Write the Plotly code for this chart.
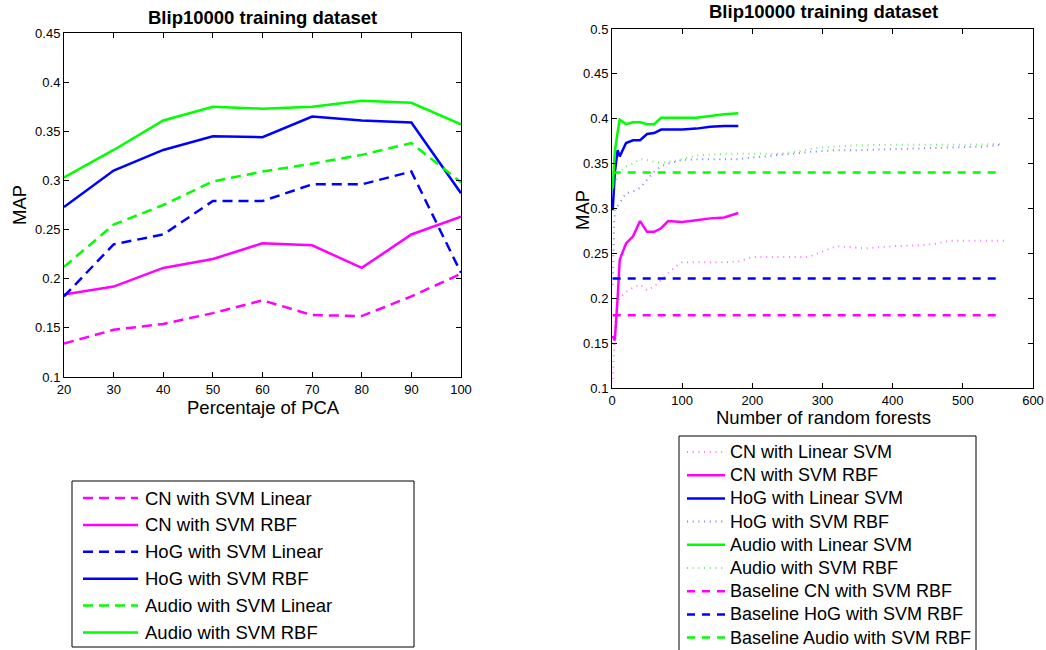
import plotly.graph_objects as go

W, H = 1046, 650
OFF = 0
FW, FH = W - OFF, H - OFF

# ---------------- Left chart data (Percentaje of PCA) ----------------
pca_pct = [20, 30, 40, 50, 60, 70, 80, 90, 100]
cn_svm_linear = [0.134, 0.148, 0.154, 0.165, 0.178, 0.163, 0.162, 0.182, 0.205]
cn_svm_rbf = [0.184, 0.192, 0.211, 0.220, 0.236, 0.234, 0.211, 0.245, 0.263]
hog_svm_linear = [0.182, 0.235, 0.245, 0.279, 0.279, 0.296, 0.296, 0.309, 0.206]
hog_svm_rbf = [0.273, 0.310, 0.331, 0.345, 0.344, 0.365, 0.361, 0.359, 0.287]
audio_svm_linear = [0.212, 0.255, 0.275, 0.299, 0.309, 0.317, 0.326, 0.338, 0.298]
audio_svm_rbf = [0.303, 0.331, 0.361, 0.375, 0.373, 0.375, 0.381, 0.379, 0.357]

left_xticks = [20, 30, 40, 50, 60, 70, 80, 90, 100]
left_yticks = [0.1, 0.15, 0.2, 0.25, 0.3, 0.35, 0.4, 0.45]
left_ytext = ["0.1", "0.15", "0.2", "0.25", "0.3", "0.35", "0.4", "0.45"]

# ---------------- Right chart data (Number of random forests) ----------------
rf_solid_x = [1, 4, 8, 11, 20, 30, 40, 50, 60, 70, 80, 100, 120, 140, 160, 180]
cn_linear_rf = [0.158, 0.153, 0.200, 0.243, 0.261, 0.269, 0.286, 0.274, 0.274, 0.278, 0.286, 0.285, 0.287, 0.289, 0.290, 0.295]
hog_linear_rf = [0.298, 0.340, 0.365, 0.358, 0.373, 0.376, 0.376, 0.383, 0.384, 0.388, 0.388, 0.388, 0.389, 0.391, 0.392, 0.392]
audio_linear_rf = [0.322, 0.363, 0.385, 0.399, 0.394, 0.396, 0.396, 0.394, 0.394, 0.401, 0.401, 0.401, 0.401, 0.403, 0.405, 0.406]

cn_dot_x = [1, 3, 5, 8, 10, 20, 30, 40, 50, 60, 70, 80, 90, 100, 120, 140, 160, 180, 200, 220,
            240, 280, 300, 320, 340, 360, 400, 440, 460, 480, 500, 520, 540, 560]
cn_rbf_rf = [0.110, 0.150, 0.180, 0.195, 0.200, 0.207, 0.212, 0.215, 0.209, 0.213, 0.220, 0.228, 0.235, 0.240,
             0.240, 0.240, 0.240, 0.241, 0.246, 0.246, 0.246, 0.246, 0.252, 0.258, 0.257, 0.2555, 0.258,
             0.259, 0.2605, 0.264, 0.264, 0.264, 0.264, 0.264]

hog_dot_x = [1, 2, 3, 5, 10, 20, 30, 40, 50, 60, 70, 80, 90, 100, 120, 140, 160, 180, 200, 220,
             240, 260, 280, 300, 320, 350, 400, 450, 500, 530, 555]
hog_rbf_rf = [0.215, 0.260, 0.285, 0.300, 0.305, 0.317, 0.319, 0.323, 0.332, 0.341, 0.347, 0.350, 0.352, 0.354,
              0.355, 0.355, 0.355, 0.355, 0.357, 0.358, 0.360, 0.361, 0.363, 0.364, 0.365, 0.365, 0.366,
              0.367, 0.368, 0.369, 0.371]

audio_dot_x = [1, 3, 5, 10, 20, 30, 40, 50, 60, 70, 80, 90, 100, 120, 140, 160, 180, 200, 220, 240,
               260, 280, 300, 320, 350, 400, 450, 500, 555]
audio_rbf_rf = [0.320, 0.325, 0.330, 0.340, 0.347, 0.350, 0.355, 0.354, 0.352, 0.351, 0.352, 0.353, 0.355,
                0.359, 0.360, 0.361, 0.361, 0.361, 0.361, 0.361, 0.363, 0.366, 0.368, 0.369, 0.3705, 0.371,
                0.371, 0.371, 0.372]

baseline_x = [1, 555]
baseline_cn = [0.181, 0.181]
baseline_hog = [0.222, 0.222]
baseline_audio = [0.340, 0.340]

right_xticks = [0, 100, 200, 300, 400, 500, 600]
right_yticks = [0.1, 0.15, 0.2, 0.25, 0.3, 0.35, 0.4, 0.45, 0.5]
right_ytext = ["0.1", "0.15", "0.2", "0.25", "0.3", "0.35", "0.4", "0.45", "0.5"]

MAG, BLU, GRN = "#FF00FF", "#0000FF", "#00FF00"
MAG_L, BLU_L, GRN_L = "rgba(255,0,255,0.55)", "rgba(0,0,255,0.5)", "rgba(0,220,0,0.55)"
FONT = "Arial, 'Liberation Sans', sans-serif"
TXT = 18.5


def px(x):
    return (x - OFF) / FW


def py(y):
    return 1 - (y - OFF) / FH


fig = go.Figure()

LDASH = "10px,6px"
left_series = [
    ("CN with SVM Linear", cn_svm_linear, MAG, LDASH, 2.5),
    ("CN with SVM RBF", cn_svm_rbf, MAG, "solid", 2.5),
    ("HoG with SVM Linear", hog_svm_linear, BLU, LDASH, 2.5),
    ("HoG with SVM RBF", hog_svm_rbf, BLU, "solid", 2.5),
    ("Audio with SVM Linear", audio_svm_linear, GRN, LDASH, 2.5),
    ("Audio with SVM RBF", audio_svm_rbf, GRN, "solid", 2.5),
]
for name, ys, col, dash, w in left_series:
    fig.add_trace(go.Scatter(x=pca_pct, y=ys, mode="lines", name=name,
                             line=dict(color=col, width=w, dash=dash),
                             xaxis="x", yaxis="y", showlegend=False))

DOT = "1px,4.7px"
BDASH = "8px,7px"
right_series = [
    ("CN with Linear SVM", cn_dot_x, cn_rbf_rf, MAG_L, DOT, 2),
    ("CN with SVM RBF", rf_solid_x, cn_linear_rf, MAG, "solid", 2.5),
    ("HoG with Linear SVM", rf_solid_x, hog_linear_rf, BLU, "solid", 2.5),
    ("HoG with SVM RBF", hog_dot_x, hog_rbf_rf, BLU_L, DOT, 2),
    ("Audio with Linear SVM", rf_solid_x, audio_linear_rf, GRN, "solid", 2.5),
    ("Audio with SVM RBF", audio_dot_x, audio_rbf_rf, GRN_L, DOT, 2),
    ("Baseline CN with SVM RBF", baseline_x, baseline_cn, MAG, BDASH, 2.5),
    ("Baseline HoG with SVM RBF", baseline_x, baseline_hog, BLU, BDASH, 2.5),
    ("Baseline Audio with SVM RBF", baseline_x, baseline_audio, GRN, BDASH, 2.5),
]
for name, xs, ys, col, dash, w in right_series:
    fig.add_trace(go.Scatter(x=xs, y=ys, mode="lines", name=name,
                             line=dict(color=col, width=w, dash=dash),
                             xaxis="x2", yaxis="y2", showlegend=False))

axis_common = dict(showgrid=False, zeroline=False, showline=True, linecolor="black",
                   linewidth=1, mirror="ticks", ticks="inside", ticklen=5,
                   tickcolor="black", automargin=False,
                   tickfont=dict(family=FONT, size=13, color="black"))

fig.update_layout(
    template="none",
    width=FW, height=FH,
    margin=dict(l=0, r=0, t=0, b=0, pad=0, autoexpand=False),
    plot_bgcolor="white", paper_bgcolor="white",
    font=dict(family=FONT, color="black"),
    showlegend=False,
    xaxis=dict(domain=[px(64), px(461)], range=[20, 100], tickvals=left_xticks,
               anchor="y", **axis_common),
    yaxis=dict(domain=[py(377), py(33)], range=[0.1, 0.45], tickvals=left_yticks,
               ticktext=left_ytext, anchor="x", **axis_common),
    xaxis2=dict(domain=[px(612), px(1033)], range=[0, 600], tickvals=right_xticks,
                anchor="y2", **axis_common),
    yaxis2=dict(domain=[py(388), py(29)], range=[0.1, 0.5], tickvals=right_yticks,
                ticktext=right_ytext, anchor="x2", **axis_common),
)


def draw_legend(series, box, line_x0, line_x1, text_x, row0, step, fsize):
    fig.add_shape(type="rect", xref="paper", yref="paper",
                  x0=px(box[0]), x1=px(box[1]), y0=py(box[3]), y1=py(box[2]),
                  line=dict(color="black", width=1), fillcolor="white", layer="below")
    for i, s in enumerate(series):
        name, col, dash, w = s[0], s[-3], s[-2], s[-1]
        yy = row0 + i * step
        fig.add_shape(type="line", xref="paper", yref="paper",
                      x0=px(line_x0), x1=px(line_x1), y0=py(yy), y1=py(yy),
                      line=dict(color=col, width=w, dash=dash))
        fig.add_annotation(text=name, xref="paper", yref="paper", x=px(text_x), y=py(yy),
                           xanchor="left", yanchor="middle", showarrow=False,
                           font=dict(family=FONT, size=fsize, color="black"))


draw_legend(left_series, (72, 414, 481, 647), 83, 138, 143, 498, 26.9, TXT)
draw_legend(right_series, (679, 976, 436, 680), 687, 725, 728, 452, 23.2, 18)


def ann(text, x, y, size, bold=False, angle=0):
    fig.add_annotation(text=("<b>%s</b>" % text) if bold else text,
                       xref="paper", yref="paper", x=px(x), y=py(y),
                       xanchor="center", yanchor="middle", showarrow=False,
                       textangle=angle, font=dict(family=FONT, size=size, color="black"))


ann("Blip10000 training dataset", 262, 17, 18.5, bold=True)
ann("Blip10000 training dataset", 823, 12, 18.5, bold=True)
ann("Percentaje of PCA", 263, 407, TXT)
ann("Number of random forests", 823, 417, TXT)
ann("MAP", 19, 205, TXT, angle=-90)
ann("MAP", 583, 210, TXT, angle=-90)

# remove the default 8px page margin so the figure fills the window exactly
fig.write_html("out.html", config={"displayModeBar": False},
               post_script="document.body.style.margin='0';document.body.style.overflow='hidden';")
